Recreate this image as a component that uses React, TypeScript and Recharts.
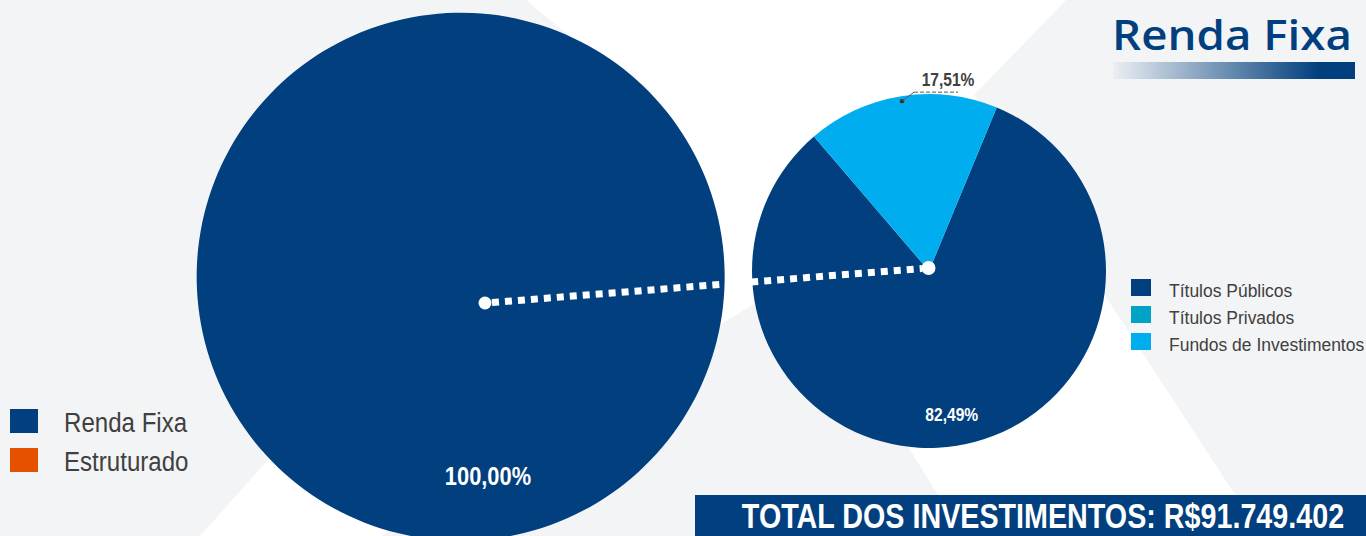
import { PieChart, Pie, Cell } from "recharts";

// Carteira consolidada por classe
const allocationNames = ["Renda Fixa", "Estruturado"];
const allocationShares = [100, 0];
const allocationColors = ["#023f7e", "#e65100"];

// Abertura da renda fixa
const fixedIncomeNames = ["Títulos Públicos", "Títulos Privados", "Fundos de Investimentos"];
const fixedIncomeShares = [82.49, 0, 17.51];
const fixedIncomeColors = ["#023f7e", "#00a3c5", "#00aeef"];

const pageTitle = "Renda Fixa";
const totalText = "TOTAL DOS INVESTIMENTOS: R$91.749.402";

const W = 1366;
const H = 536;
const NAVY = "#023f7e";
const GREY_TEXT = "#404040";
const SANS = "'Liberation Sans', Arial, sans-serif";
const RAD = Math.PI / 180;

const allocationData = allocationNames.map((name, i) => ({ name, value: allocationShares[i] }));
const fixedIncomeData = fixedIncomeNames.map((name, i) => ({ name, value: fixedIncomeShares[i] }));

const fmt = (v: number) => v.toFixed(2).replace(".", ",") + "%";

function polar(cx: number, cy: number, r: number, angle: number) {
  return { x: cx + r * Math.cos(-angle * RAD), y: cy + r * Math.sin(-angle * RAD) };
}

// no condensed face is installed, so squeeze the regular one horizontally
function NarrowText(props: {
  x: number;
  y: number;
  squeeze: number;
  size: number;
  fill: string;
  bold?: boolean;
  anchor?: "start" | "middle" | "end";
  baseline?: "central" | "auto";
  children: string;
}) {
  return (
    <text
      transform={`translate(${props.x},${props.y}) scale(${props.squeeze},1)`}
      fill={props.fill}
      fontSize={props.size}
      fontWeight={props.bold ? 700 : 400}
      fontFamily={SANS}
      textAnchor={props.anchor ?? "start"}
      dominantBaseline={props.baseline ?? "auto"}
    >
      {props.children}
    </text>
  );
}

function renderAllocationLabel(p: any) {
  if (!p.value) return null;
  const { x, y } = polar(p.cx, p.cy, p.outerRadius * 0.76, p.midAngle);
  return (
    <NarrowText x={x} y={y} squeeze={0.84} size={26} fill="#fff" bold anchor="middle" baseline="central">
      {fmt(p.percent * 100)}
    </NarrowText>
  );
}

function renderFixedIncomeLabel(p: any) {
  if (!p.value) return null;
  const pct = fmt(p.percent * 100);
  if (p.percent > 0.5) {
    const { x, y } = polar(p.cx, p.cy, p.outerRadius * 0.82, p.midAngle);
    return (
      <NarrowText x={x} y={y} squeeze={0.82} size={19} fill="#fff" bold anchor="middle" baseline="central">
        {pct}
      </NarrowText>
    );
  }
  // small slice: callout above the rim with a leader line
  const d = polar(p.cx, p.cy, p.outerRadius - 5, p.midAngle);
  return (
    <g>
      <circle cx={d.x} cy={d.y} r={2.2} fill="#333" />
      <path d={`M${d.x},${d.y} L${d.x + 12},${d.y - 9}`} stroke="#555" strokeWidth={1} fill="none" />
      <path
        d={`M${d.x + 12},${d.y - 9} L${d.x + 56},${d.y - 9}`}
        stroke="#555"
        strokeWidth={1}
        strokeDasharray="4 2"
        fill="none"
      />
      <NarrowText x={d.x + 46} y={d.y - 15} squeeze={0.82} size={19} fill={GREY_TEXT} bold anchor="middle">
        {pct}
      </NarrowText>
    </g>
  );
}

export default function App() {
  return (
    <div
      style={{
        position: "absolute",
        left: 0,
        top: 0,
        width: W,
        height: H,
        overflow: "hidden",
        background: "#f3f4f6",
      }}
    >
      {/* backdrop: white diagonal bands over light grey */}
      <svg width={W} height={H} style={{ position: "absolute", left: 0, top: 0 }}>
        <polygon
          fill="#ffffff"
          points="526,0 1066,0 974,95 1262,536 964,536 800,275 381,536 200,536 614,73"
        />
      </svg>

      <div style={{ position: "absolute", left: 0, top: 0 }}>
        <PieChart width={W} height={H} margin={{ top: 0, right: 0, bottom: 0, left: 0 }}>
          <Pie
            data={allocationData}
            dataKey="value"
            nameKey="name"
            cx={459}
            cy={277}
            outerRadius={264}
            startAngle={98.3}
            endAngle={-261.7}
            stroke="none"
            label={renderAllocationLabel}
            labelLine={false}
            isAnimationActive={false}
          >
            {allocationData.map((d, i) => (
              <Cell key={d.name} fill={allocationColors[i]} />
            ))}
          </Pie>
          <Pie
            data={fixedIncomeData}
            dataKey="value"
            nameKey="name"
            cx={929}
            cy={271}
            outerRadius={177}
            startAngle={67.5}
            endAngle={-292.5}
            stroke="none"
            label={renderFixedIncomeLabel}
            labelLine={false}
            isAnimationActive={false}
          >
            {fixedIncomeData.map((d, i) => (
              <Cell key={d.name} fill={fixedIncomeColors[i]} />
            ))}
          </Pie>
        </PieChart>
      </div>

      <svg width={W} height={H} style={{ position: "absolute", left: 0, top: 0, pointerEvents: "none" }}>
        <defs>
          <linearGradient id="titleBar" x1="0" x2="1" y1="0" y2="0">
            <stop offset="0%" stopColor={NAVY} stopOpacity={0.03} />
            <stop offset="85%" stopColor={NAVY} stopOpacity={1} />
            <stop offset="100%" stopColor={NAVY} stopOpacity={1} />
          </linearGradient>
        </defs>

        {/* connector between the two pies */}
        <line
          x1={492}
          y1={302.5}
          x2={922}
          y2={268.5}
          stroke="#fff"
          strokeWidth={7}
          strokeDasharray="7 6"
        />
        <circle cx={485} cy={303} r={6.5} fill="#fff" />
        <circle cx={928.5} cy={268} r={7} fill="#fff" />

        {/* heading */}
        <text
          x={1112}
          y={50}
          fill={NAVY}
          fontSize={42}
          fontWeight={600}
          fontFamily="'Open Sans', 'Noto Sans', sans-serif"
          textLength={240}
          lengthAdjust="spacingAndGlyphs"
        >
          {pageTitle}
        </text>
        <rect x={1113} y={62} width={242} height={17} fill="url(#titleBar)" />

        {/* legend for the allocation pie */}
        {allocationNames.map((name, i) => (
          <g key={name}>
            <rect x={10} y={409 + i * 39} width={28} height={24} fill={allocationColors[i]} />
            <NarrowText x={64} y={432 + i * 39} squeeze={0.86} size={28} fill={GREY_TEXT}>
              {name}
            </NarrowText>
          </g>
        ))}

        {/* legend for the fixed income pie */}
        {fixedIncomeNames.map((name, i) => (
          <g key={name}>
            <rect x={1131} y={279 + i * 27} width={20} height={17} fill={fixedIncomeColors[i]} />
            <NarrowText x={1169} y={296.5 + i * 27} squeeze={0.945} size={18.5} fill={GREY_TEXT}>
              {name}
            </NarrowText>
          </g>
        ))}

        {/* total banner */}
        <rect x={695} y={495} width={W - 695} height={H - 495} fill={NAVY} />
        <NarrowText x={1043} y={528} squeeze={0.82} size={35} fill="#fff" bold anchor="middle">
          {totalText}
        </NarrowText>
      </svg>
    </div>
  );
}
